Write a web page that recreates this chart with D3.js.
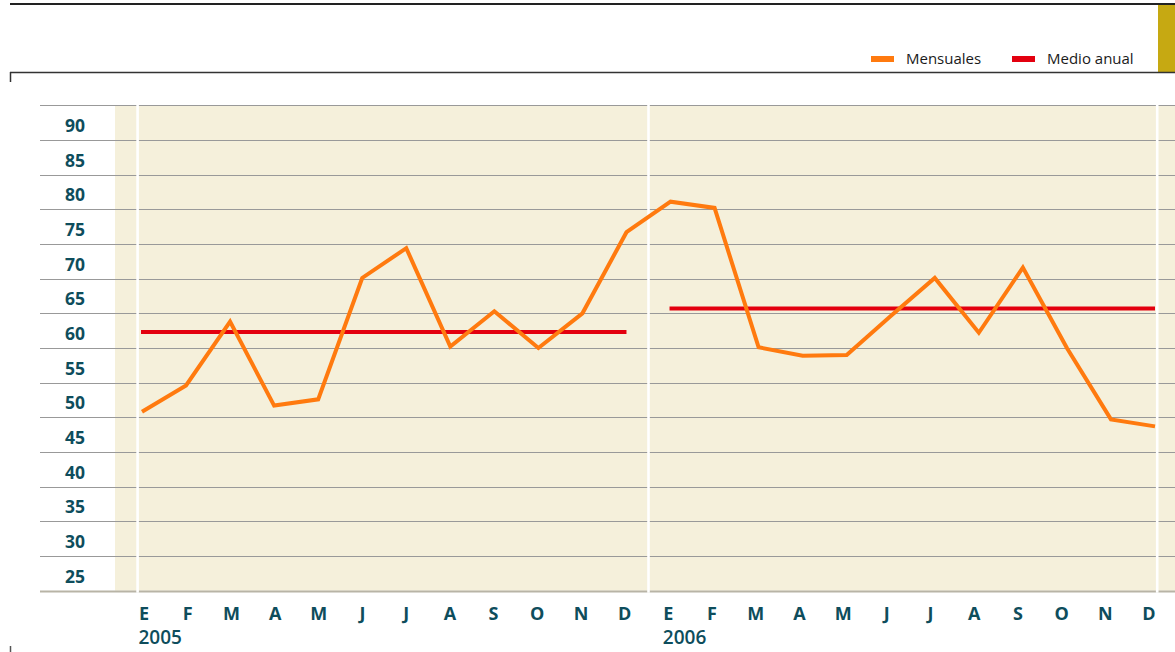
<!DOCTYPE html>
<html>
<head>
<meta charset="utf-8">
<script src="https://cdn.jsdelivr.net/npm/d3@7"></script>
<style>
  body { margin: 0; background: #fff; }
  svg { display: block; font-family: "Open Sans", sans-serif; }
</style>
</head>
<body>
<div id="viz"></div>
<script>
// month labels (spanish initials), two years
const months = ["E", "F", "M", "A", "M", "J", "J", "A", "S", "O", "N", "D"];
const years = ["2005", "2006"];
const yTicks = [90, 85, 80, 75, 70, 65, 60, 55, 50, 45, 40, 35, 30, 25];

// monthly values
const mensuales2005 = [48.3, 52.1, 61.3, 49.2, 50.1, 67.6, 71.9, 57.7, 62.8, 57.5, 62.5, 74.2];
const mensuales2006 = [78.6, 77.7, 57.6, 56.4, 56.5, 62.1, 67.6, 59.7, 69.1, 57.5, 47.2, 46.2];
const medioAnual = [59.8, 63.2];

const width = 1175;
const height = 652;

const orange = "#ff7a0f";
const red = "#e3000f";
const teal = "#0e4d5c";

const svg = d3.select("#viz")
  .append("svg")
  .attr("width", width)
  .attr("height", height);

// x: month index 0..23
const x = d3.scaleLinear().domain([0, 23]).range([142, 1155]);
// labels are spaced a touch tighter than the points
const xLab = d3.scaleLinear().domain([0, 23]).range([144, 1149]);
// y: tick labels sit in the middle of each band
const y = d3.scaleLinear().domain([22.5, 92.5]).range([590.7, 105.3]);

// header frame
svg.append("line")
  .attr("x1", 10).attr("x2", width).attr("y1", 4).attr("y2", 4)
  .attr("stroke", "#222").attr("stroke-width", 2);
svg.append("rect")
  .attr("x", 1158).attr("y", 5).attr("width", width - 1158).attr("height", 67)
  .attr("fill", "#c6a912");
svg.append("line")
  .attr("x1", 10).attr("x2", width).attr("y1", 72.5).attr("y2", 72.5)
  .attr("stroke", "#333").attr("stroke-width", 1.5);
svg.append("line")
  .attr("x1", 10.5).attr("x2", 10.5).attr("y1", 72).attr("y2", 82)
  .attr("stroke", "#333").attr("stroke-width", 1.5);
svg.append("line")
  .attr("x1", 10.5).attr("x2", 10.5).attr("y1", 646).attr("y2", 652)
  .attr("stroke", "#555").attr("stroke-width", 1.5);

// legend
const legend = [
  { name: "Mensuales", color: orange, x: 871 },
  { name: "Medio anual", color: red, x: 1012 }
];
const lg = svg.selectAll(".legend")
  .data(legend)
  .enter().append("g")
  .attr("class", "legend")
  .attr("transform", d => `translate(${d.x},0)`);
lg.append("rect")
  .attr("y", 56).attr("width", 23).attr("height", 6)
  .attr("fill", d => d.color);
lg.append("text")
  .attr("x", 35).attr("y", 64)
  .attr("font-size", 15)
  .attr("fill", "#1a1a1a")
  .text(d => d.name);

// plot background
svg.append("rect")
  .attr("x", 115).attr("y", y(92.5))
  .attr("width", width - 115).attr("height", y(22.5) - y(92.5))
  .attr("fill", "#f5f0db");

// gridlines (band edges)
const edges = d3.range(22.5, 93, 5);
svg.selectAll(".grid")
  .data(edges)
  .enter().append("line")
  .attr("class", "grid")
  .attr("x1", 40).attr("x2", width)
  .attr("y1", d => Math.round(y(d)) + 0.5)
  .attr("y2", d => Math.round(y(d)) + 0.5)
  .attr("stroke", d => d === 22.5 ? "#b8b4a6" : "#999")
  .attr("stroke-width", d => d === 22.5 ? 2 : 1);

// white year separators
const separators = [-0.1, 11.5, 23.05];
svg.selectAll(".sep")
  .data(separators)
  .enter().append("line")
  .attr("class", "sep")
  .attr("x1", d => x(d)).attr("x2", d => x(d))
  .attr("y1", y(92.5) - 1).attr("y2", y(22.5) + 2)
  .attr("stroke", "#fff").attr("stroke-width", 2.6);

// y labels
svg.selectAll(".ylab")
  .data(yTicks)
  .enter().append("text")
  .attr("class", "ylab")
  .attr("x", 85)
  .attr("y", d => y(d) + 9.3)
  .attr("text-anchor", "end")
  .attr("font-size", 17.5)
  .attr("font-weight", 700)
  .attr("fill", teal)
  .text(d => d);

// x labels
const monthLabels = years.flatMap(() => months);
svg.selectAll(".xlab")
  .data(monthLabels)
  .enter().append("text")
  .attr("class", "xlab")
  .attr("x", (d, i) => xLab(i))
  .attr("y", 620)
  .attr("text-anchor", "middle")
  .attr("font-size", 18)
  .attr("font-weight", 700)
  .attr("fill", teal)
  .text(d => d);

svg.selectAll(".year")
  .data(years)
  .enter().append("text")
  .attr("class", "year")
  .attr("x", (d, i) => xLab(i * 12) - 5.5)
  .attr("y", 644)
  .attr("font-size", 19)
  .attr("font-weight", 600)
  .attr("fill", teal)
  .text(d => d);

// annual means
svg.selectAll(".medio")
  .data(medioAnual)
  .enter().append("line")
  .attr("class", "medio")
  .attr("x1", (d, i) => x(i * 12) - 1)
  .attr("x2", (d, i) => x(i * 12 + 11))
  .attr("y1", d => y(d)).attr("y2", d => y(d))
  .attr("stroke", red).attr("stroke-width", 4);

// monthly line
const mensuales = mensuales2005.concat(mensuales2006);
const line = d3.line()
  .x((d, i) => x(i))
  .y(d => y(d));

svg.append("path")
  .datum(mensuales)
  .attr("d", line)
  .attr("fill", "none")
  .attr("stroke", orange)
  .attr("stroke-width", 4)
  .attr("stroke-linejoin", "miter");
</script>
</body>
</html>
